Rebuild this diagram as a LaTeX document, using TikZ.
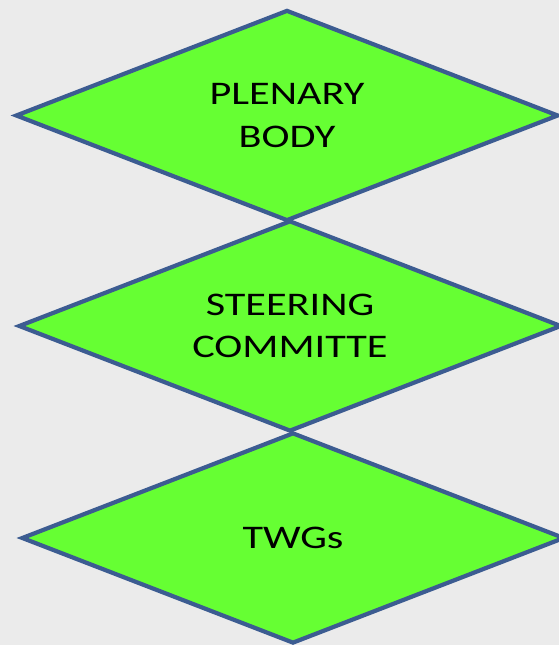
\documentclass[tikz,border=0pt]{standalone}
\usepackage{fontspec}
\setmainfont{Carlito}
\usepackage{tikz}
\usetikzlibrary{shapes.geometric}
\usepackage{xcolor}
\definecolor{cFill}{RGB}{102,255,51}
\definecolor{cEdge}{RGB}{60,92,145}
\definecolor{cBack}{RGB}{235,235,235}
\newcommand{\wtxt}[1]{\scalebox{1.28}[1]{#1}}

\begin{document}
\begin{tikzpicture}[
    x=1pt, y=1pt,
    level/.style={diamond,shape aspect=2.57,draw=cEdge,line width=4.2pt,fill=cFill,inner sep=0pt,
      minimum width=543pt,minimum height=211pt,align=center,
      font=\fontsize{33}{42.5}\selectfont}
  ]
  \fill[cBack] (0,0) rectangle (559,645);
  \useasboundingbox (0,0) rectangle (559,645);
  \node[level] (plen)  at (287,529.5) {\wtxt{PLENARY}\\\wtxt{BODY}};
  \node[level] (steer) at (290,319)   {\wtxt{STEERING}\\\wtxt{COMMITTE}};
  \node[level] (twg)   at (293,107)   {\wtxt{TWGs}};
\end{tikzpicture}
\end{document}
